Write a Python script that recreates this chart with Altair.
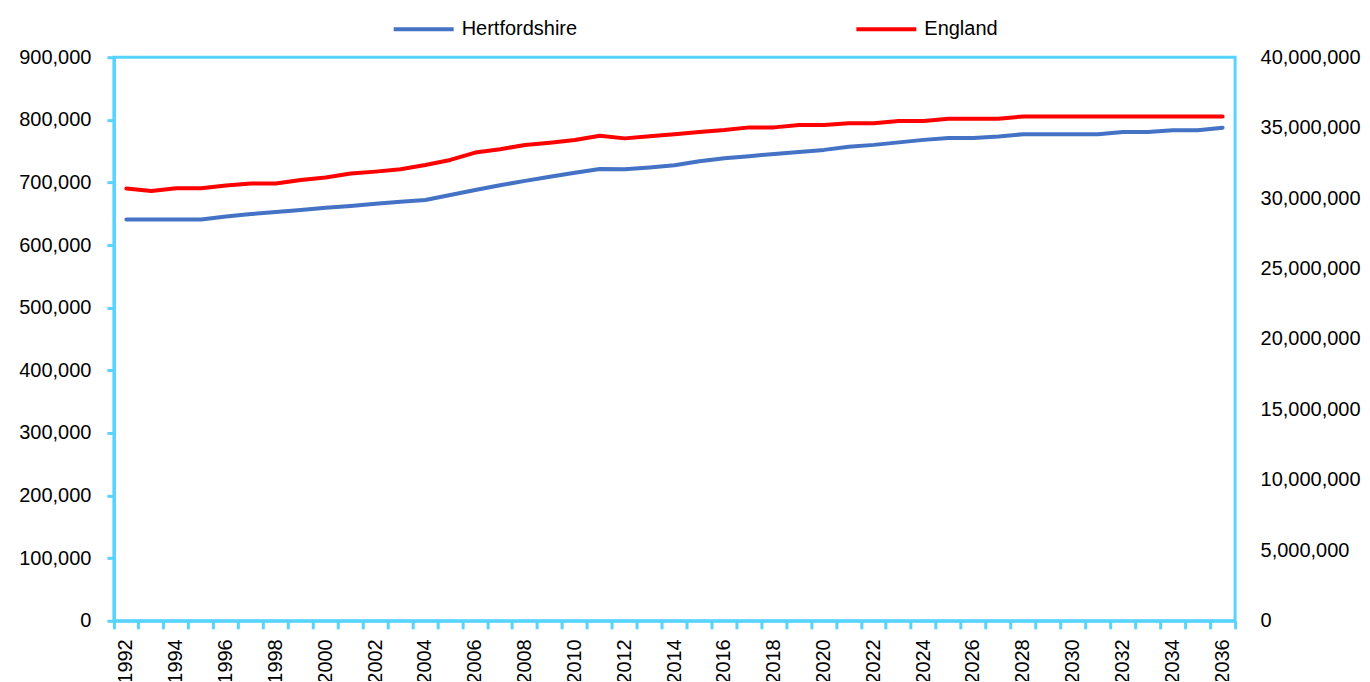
import altair as alt
import pandas as pd

years = list(range(1992, 2037))

hertfordshire = [
    641000, 641000, 641000, 641000, 645600, 649500, 653000, 656000, 659500, 662500,
    666000, 669000, 672000, 680000, 688000, 695500, 702500, 709000, 715500, 721500,
    721000, 724000, 727500, 734000, 738500, 742000, 745500, 748500, 752000, 757000,
    760000, 764000, 768000, 771000, 771000, 773500, 777000, 777000, 777000, 777000,
    780500, 780500, 783500, 783500, 787500,
]

england = [
    30680000, 30510000, 30700000, 30700000, 30890000, 31030000, 31030000, 31290000, 31460000, 31740000,
    31880000, 32050000, 32350000, 32710000, 33230000, 33470000, 33770000, 33930000, 34120000, 34430000,
    34240000, 34390000, 34530000, 34690000, 34830000, 35020000, 35020000, 35190000, 35190000, 35320000,
    35320000, 35470000, 35470000, 35630000, 35630000, 35630000, 35800000, 35800000, 35800000, 35800000,
    35800000, 35800000, 35800000, 35800000, 35800000,
]

series_names = ["Hertfordshire", "England"]
series_colors = ["#4472C4", "#FF0000"]
left_ticks = list(range(0, 900001, 100000))
right_ticks = list(range(0, 40000001, 5000000))

df = pd.DataFrame({
    "year": [str(y) for y in years],
    "herts": hertfordshire,
    "england": england,
})

FONT = "Liberation Sans"
FRAME = "#57D3FF"

x_enc = alt.X(
    "year:O",
    scale=alt.Scale(type="band", paddingInner=0, paddingOuter=0),
    axis=alt.Axis(
        title=None,
        labelAngle=270,
        labelExpr="parseInt(datum.value) % 2 == 0 ? datum.label : ''",
        bandPosition=1,
        tickExtra=True,
        tickSize=8,
        tickWidth=3,
        tickColor=FRAME,
        domainColor=FRAME,
        domainWidth=3,
        labelPadding=10,
        labelFontSize=20,
        labelFont=FONT,
        labelColor="#000000",
    ),
)

color_enc = alt.Color(
    "series:N",
    scale=alt.Scale(domain=series_names, range=series_colors),
    legend=alt.Legend(
        title=None,
        orient="none",
        direction="horizontal",
        legendX=278,
        legendY=-60,
        symbolType="stroke",
        symbolSize=3600,
        symbolStrokeWidth=4,
        labelFontSize=20,
        labelFont=FONT,
        labelColor="#000000",
        labelOffset=6,
        columnPadding=271,
    ),
)

base = alt.Chart(df)

herts_line = base.transform_calculate(series='"Hertfordshire"').mark_line(
    strokeWidth=4, strokeCap="round", strokeJoin="round"
).encode(
    x=x_enc,
    y=alt.Y(
        "herts:Q",
        scale=alt.Scale(domain=[0, 900000], nice=False, zero=True),
        axis=alt.Axis(
            title=None,
            orient="left",
            values=left_ticks,
            format=",.0f",
            grid=False,
            tickSize=7,
            tickWidth=3,
            tickColor=FRAME,
            domainColor=FRAME,
            domainWidth=3,
            labelPadding=16,
            labelFontSize=20,
            labelFont=FONT,
            labelColor="#000000",
        ),
    ),
    color=color_enc,
)

eng_line = base.transform_calculate(series='"England"').mark_line(
    strokeWidth=4, strokeCap="round", strokeJoin="round"
).encode(
    x=x_enc,
    y=alt.Y(
        "england:Q",
        scale=alt.Scale(domain=[0, 40000000], nice=False, zero=True),
        axis=alt.Axis(
            title=None,
            orient="right",
            values=right_ticks,
            format=",.0f",
            grid=False,
            ticks=False,
            domain=False,
            labelPadding=25,
            labelFontSize=20,
            labelFont=FONT,
            labelColor="#000000",
        ),
    ),
    color=color_enc,
)

chart = alt.layer(herts_line, eng_line).resolve_scale(
    y="independent"
).properties(
    width=1122,
    height=564,
    background="#FFFFFF",
    autosize=alt.AutoSizeParams(type="none"),
    padding={"left": 106, "top": 49, "right": 127, "bottom": 60},
).configure_view(
    stroke=FRAME,
    strokeWidth=3,
)

chart.save("out.html", embed_options={"renderer": "svg", "actions": False})
